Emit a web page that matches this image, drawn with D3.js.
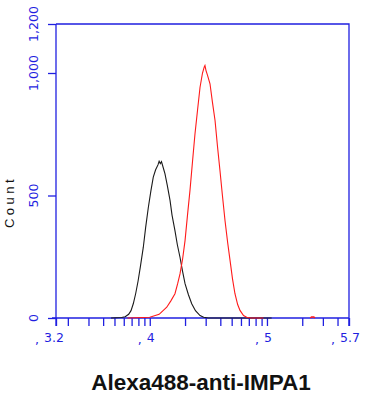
<html>
  <head>
    <title>IMPA1 histogram</title>
    <script src="https://d3js.org/d3.v7.min.js"></script>
    <style>
      body { margin: 0; background: #fff; }
    </style>
  </head>
  <body>
    <svg id="visual" width="370" height="400"></svg>
    <script type="text/javascript">

    // isotype control (black) - log10 intensity and count
    var blackLog   = [3.67, 3.76, 3.79, 3.82, 3.84, 3.86, 3.88, 3.90, 3.92, 3.945, 3.965, 3.988, 4.01, 4.03, 4.05, 4.07, 4.08, 4.09, 4.10, 4.12, 4.13, 4.15, 4.173, 4.19, 4.215, 4.235, 4.258, 4.28, 4.301, 4.33, 4.358, 4.39, 4.429, 4.46, 4.50, 5.04];
    var blackCount = [0, 2, 5, 15, 30, 59, 100, 150, 210, 289, 370, 452, 520, 575, 605, 625, 640, 630, 638, 605, 588, 540, 480, 420, 357, 300, 248, 190, 140, 95, 58, 30, 10, 3, 0, 0];

    // anti-IMPA1 (red)
    var redLog   = [3.81, 4.00, 4.08, 4.145, 4.18, 4.215, 4.238, 4.258, 4.28, 4.301, 4.322, 4.343, 4.365, 4.386, 4.408, 4.429, 4.45, 4.465, 4.471, 4.48, 4.493, 4.514, 4.535, 4.557, 4.578, 4.599, 4.62, 4.642, 4.664, 4.685, 4.706, 4.727, 4.75, 4.77, 4.80, 4.827, 4.86, 4.97];
    var redCount = [0, 3, 15, 44, 70, 99, 140, 180, 240, 316, 420, 520, 640, 752, 850, 942, 1000, 1025, 1031, 1010, 990, 956, 880, 806, 700, 602, 500, 398, 310, 235, 160, 99, 55, 31, 10, 3, 0, 0];

    // small red blip further right
    var redBlipLog   = [5.37, 5.38, 5.40, 5.41];
    var redBlipCount = [0, 4, 4, 0];

    var yTicks = [0, 500, 1000, 1200];
    var yTickLabels = ["0", "500", "1,000", "1,200"];
    var xLabelPos = [3.2, 4, 5, 5.7];
    var xTickLabels = ["3.2", "4", "5", "5.7"];

    var blue = "#1f1fe0";
    var pLeft = 56, pRight = 349, pTop = 24, pBottom = 318;

    var svg = d3.select("#visual");

    var x = d3.scaleLog()
        .domain([Math.pow(10, 3.2), Math.pow(10, 5.7)])
        .range([pLeft, pRight]);
    var y = d3.scaleLinear()
        .domain([0, 1200])
        .range([pBottom, pTop]);

    svg.append("clipPath").attr("id", "clip")
        .append("rect")
        .attr("x", pLeft).attr("y", pTop - 2)
        .attr("width", pRight - pLeft).attr("height", pBottom - pTop + 3);

    function series(logs, counts) {
        return logs.map(function(v, i) { return [Math.pow(10, v), counts[i]]; });
    }

    var line = d3.line()
        .x(function(d) { return x(d[0]); })
        .y(function(d) { return y(d[1]); });

    // frame (top and right edges)
    svg.append("path")
        .attr("d", "M" + pLeft + "," + pTop + "H" + pRight + "V" + (pBottom + 8))
        .attr("fill", "none")
        .attr("stroke", blue)
        .attr("stroke-width", 1.3);

    // x axis with log ticks
    var xTickVals = [Math.pow(10, 3.2)].concat(x.ticks()).concat([Math.pow(10, 5.7)]);
    var xAxis = d3.axisBottom(x)
        .tickValues(xTickVals)
        .tickSize(8)
        .tickSizeOuter(0)
        .tickFormat("");
    var gx = svg.append("g")
        .attr("transform", "translate(0," + pBottom + ")")
        .call(xAxis);
    gx.select(".domain").attr("d", "M" + (pLeft - 4) + ",0H" + pRight);
    gx.selectAll("line, path").attr("stroke", blue).attr("stroke-width", 1.3);

    // y axis
    var yAxis = d3.axisLeft(y)
        .tickValues(yTicks)
        .tickSize(8)
        .tickSizeOuter(0)
        .tickFormat("");
    var gy = svg.append("g")
        .attr("transform", "translate(" + pLeft + ",0)")
        .call(yAxis);
    gy.select(".domain").attr("d", "M0," + pTop + "V" + (pBottom + 8));
    gy.selectAll("line, path").attr("stroke", blue).attr("stroke-width", 1.3);

    // y tick labels, rotated
    svg.selectAll(".ylab")
        .data(yTicks)
        .enter()
        .append("text")
        .attr("class", "ylab")
        .attr("transform", function(d) { return "translate(38," + y(d) + ") rotate(-90)"; })
        .attr("text-anchor", "middle")
        .attr("font-family", "DejaVu Sans, sans-serif")
        .attr("font-size", 12.5)
        .attr("fill", blue)
        .text(function(d, i) { return yTickLabels[i]; });

    // x tick labels with the little comma mark in front
    xLabelPos.forEach(function(p, i) {
        var px = x(Math.pow(10, p)) + (i == 0 ? -2 : 1);
        var t = svg.append("text")
            .attr("x", px)
            .attr("y", 342)
            .attr("text-anchor", "middle")
            .attr("font-family", "DejaVu Sans, sans-serif")
            .attr("font-size", 12.5)
            .attr("fill", blue)
            .text(xTickLabels[i]);
        var w = t.node().getComputedTextLength();
        svg.append("text")
            .attr("x", px - w / 2 - 9)
            .attr("y", 344)
            .attr("font-family", "DejaVu Sans, sans-serif")
            .attr("font-size", 12.5)
            .attr("fill", blue)
            .text(",");
    });

    // curves
    var plot = svg.append("g").attr("clip-path", "url(#clip)");
    plot.append("path")
        .attr("d", line(series(blackLog, blackCount)))
        .attr("fill", "none")
        .attr("stroke", "#1a1a1a")
        .attr("stroke-width", 1.1);
    plot.append("path")
        .attr("d", line(series(redLog, redCount)))
        .attr("fill", "none")
        .attr("stroke", "#ff1a1a")
        .attr("stroke-width", 1.1);
    plot.append("path")
        .attr("d", line(series(redBlipLog, redBlipCount)))
        .attr("fill", "none")
        .attr("stroke", "#ff1a1a")
        .attr("stroke-width", 1.5);

    // axis titles
    svg.append("text")
        .attr("transform", "translate(14,202) rotate(-90)")
        .attr("text-anchor", "middle")
        .attr("font-family", "Liberation Sans, Arial, sans-serif")
        .attr("font-size", 13)
        .attr("letter-spacing", 3.5)
        .attr("fill", "#111")
        .text("Count");

    svg.append("text")
        .attr("x", 201)
        .attr("y", 390)
        .attr("text-anchor", "middle")
        .attr("font-family", "Liberation Sans, Arial, sans-serif")
        .attr("font-weight", "bold")
        .attr("font-size", 22.5)
        .attr("fill", "#111")
        .text("Alexa488-anti-IMPA1");

    </script>
  </body>
</html>
